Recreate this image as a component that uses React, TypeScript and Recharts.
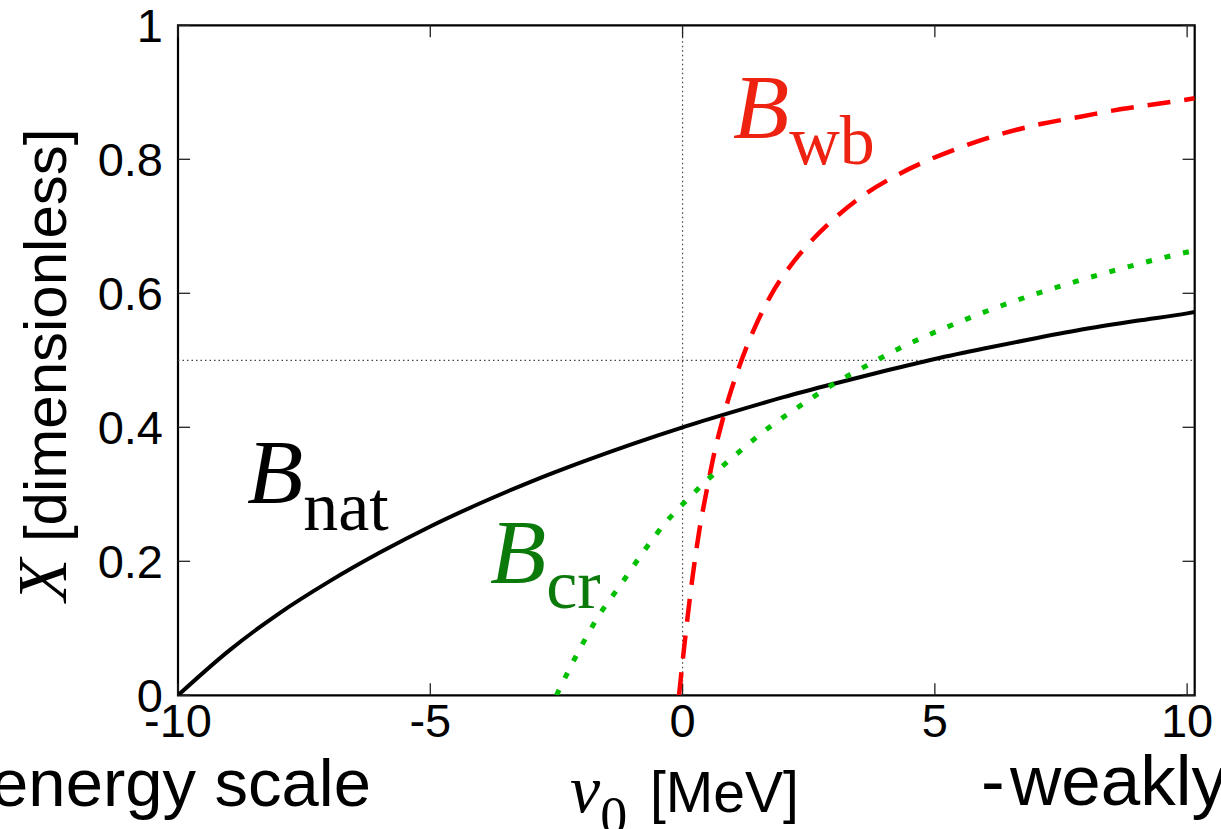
import React from "react";
import { LineChart, Line, XAxis, YAxis, ReferenceLine, ReferenceArea } from "recharts";

// nu_0 [MeV] and X for the three binding-energy scales
const natNu = [-10, -9, -8, -7, -6, -5, -4, -3, -2, -1, 0, 1, 2, 3, 4, 5, 6, 7, 8, 9, 10, 10.15];
const natX = [0, 0.066, 0.122, 0.17, 0.213, 0.252, 0.287, 0.319, 0.348, 0.375, 0.4, 0.423, 0.445, 0.465, 0.484, 0.502, 0.518, 0.533, 0.547, 0.559, 0.57, 0.572];

const wbNu = [-0.07, 0, 0.1, 0.19, 0.33, 0.5, 0.63, 0.79, 0.92, 1.12, 1.42, 1.75, 2.21, 2.43, 3, 3.56, 4.19, 4.88, 5.59, 6.37, 7.12, 7.91, 8.7, 9.53, 10.15];
const wbX = [0, 0.05, 0.117, 0.172, 0.245, 0.314, 0.362, 0.41, 0.445, 0.49, 0.547, 0.597, 0.648, 0.668, 0.711, 0.745, 0.774, 0.799, 0.82, 0.839, 0.853, 0.864, 0.875, 0.884, 0.891];

const crNu = [-2.5, -2.1, -1.7, -1.2, -0.75, -0.3, 0, 0.5, 1.1, 1.7, 2.35, 3, 3.65, 4.3, 5.35, 6.45, 7.55, 8.7, 9.8, 10.15];
const crX = [0, 0.06, 0.114, 0.168, 0.217, 0.261, 0.285, 0.322, 0.362, 0.399, 0.433, 0.465, 0.492, 0.518, 0.553, 0.585, 0.612, 0.637, 0.658, 0.664];

const xTicks = [-10, -5, 0, 5, 10];
const xTickLabels = ["-10", "-5", "0", "5", "10"];
const yTicks = [0, 0.2, 0.4, 0.6, 0.8, 1];
const yTickLabels = ["0", "0.2", "0.4", "0.6", "0.8", "1"];

const X_MIN = -10;
const X_MAX = 10.15;

const toPoints = (xs: number[], ys: number[]) => xs.map((x, i) => ({ x, y: ys[i] }));
const natData = toPoints(natNu, natX);
const wbData = toPoints(wbNu, wbX);
const crData = toPoints(crNu, crX);

const SANS = "'Liberation Sans', Arial, Helvetica, sans-serif";
const SERIF = "'Liberation Serif', 'Times New Roman', Times, serif";

const W = 1221;
const H = 829;

const XTick = (props: any) => {
  const { x, y, payload } = props;
  const i = xTicks.indexOf(payload.value);
  return (
    <text x={x} y={y + 42} textAnchor="middle" fontFamily={SANS} fontSize={47} fill="#000">
      {i >= 0 ? xTickLabels[i] : payload.value}
    </text>
  );
};

const YTick = (props: any) => {
  const { x, y, payload } = props;
  const i = yTicks.indexOf(payload.value);
  return (
    <text x={x - 15} y={y + 16.5} textAnchor="end" fontFamily={SANS} fontSize={47} fill="#000">
      {i >= 0 ? yTickLabels[i] : payload.value}
    </text>
  );
};

const tickStroke = "#222";
const xTickLen = 0.24; // in nu units
const yTickLen = 0.018; // in X units

export default function App() {
  return (
    <div style={{ position: "absolute", left: 0, top: 0, width: W, height: H, background: "#fff", overflow: "hidden" }}>
      <LineChart
        width={W}
        height={H}
        margin={{ top: 25.3, right: 26.3, bottom: 93.7, left: 118 }}
      >
        <XAxis
          type="number"
          dataKey="x"
          domain={[X_MIN, X_MAX]}
          ticks={xTicks}
          interval={0}
          allowDataOverflow
          axisLine={false}
          tickLine={false}
          tickSize={0}
          tickMargin={0}
          height={40}
          tick={<XTick />}
        />
        <YAxis
          type="number"
          dataKey="y"
          domain={[0, 1]}
          ticks={yTicks}
          interval={0}
          allowDataOverflow
          axisLine={false}
          tickLine={false}
          tickSize={0}
          tickMargin={0}
          width={60}
          tick={<YTick />}
        />

        {/* dotted guides at X = 0.5 and nu_0 = 0 */}
        <ReferenceLine y={0.5} stroke="#444" strokeWidth={1.2} strokeDasharray="1.5 3" ifOverflow="visible" />
        <ReferenceLine x={0} stroke="#444" strokeWidth={1.2} strokeDasharray="1.5 3" ifOverflow="visible" />

        {/* inward tick marks on all four sides */}
        {xTicks.map((t) => (
          <ReferenceLine key={`xb${t}`} segment={[{ x: t, y: 0 }, { x: t, y: yTickLen }]} stroke={tickStroke} strokeWidth={1.3} ifOverflow="visible" />
        ))}
        {xTicks.map((t) => (
          <ReferenceLine key={`xt${t}`} segment={[{ x: t, y: 1 }, { x: t, y: 1 - yTickLen }]} stroke={tickStroke} strokeWidth={1.3} ifOverflow="visible" />
        ))}
        {yTicks.map((t) => (
          <ReferenceLine key={`yl${t}`} segment={[{ x: X_MIN, y: t }, { x: X_MIN + xTickLen, y: t }]} stroke={tickStroke} strokeWidth={1.3} ifOverflow="visible" />
        ))}
        {yTicks.map((t) => (
          <ReferenceLine key={`yr${t}`} segment={[{ x: X_MAX, y: t }, { x: X_MAX - xTickLen, y: t }]} stroke={tickStroke} strokeWidth={1.3} ifOverflow="visible" />
        ))}

        {/* plot frame */}
        <ReferenceArea x1={X_MIN} x2={X_MAX} y1={0} y2={1} fill="none" fillOpacity={0} stroke="#000" strokeWidth={2.2} ifOverflow="visible" />

        <Line data={natData} dataKey="y" type="monotone" stroke="#000" strokeWidth={4} dot={false} isAnimationActive={false} />
        <Line data={wbData} dataKey="y" type="monotone" stroke="#ff0000" strokeWidth={4.5} strokeDasharray="23 14" dot={false} isAnimationActive={false} />
        <Line data={crData} dataKey="y" type="monotone" stroke="#00c000" strokeWidth={5} strokeDasharray="6 13" dot={false} isAnimationActive={false} />
      </LineChart>

      <svg width={W} height={H} style={{ position: "absolute", left: 0, top: 0, pointerEvents: "none" }}>
        {/* curve labels */}
        <text x={247} y={503} fontFamily={SERIF} fill="#000">
          <tspan fontStyle="italic" fontSize={92}>B</tspan>
          <tspan fontSize={70} dy={27}>nat</tspan>
        </text>
        <text x={490} y={583} fontFamily={SERIF} fill="#0b7a0b">
          <tspan fontStyle="italic" fontSize={92}>B</tspan>
          <tspan fontSize={70} dy={25}>cr</tspan>
        </text>
        <text x={733} y={138} fontFamily={SERIF} fill="#ee2211">
          <tspan fontStyle="italic" fontSize={92}>B</tspan>
          <tspan fontSize={70} dy={26}>wb</tspan>
        </text>

        {/* y-axis title */}
        <text transform="translate(66,365) rotate(-90)" textAnchor="middle" fill="#000">
          <tspan fontFamily={SERIF} fontStyle="italic" fontSize={70}>X</tspan>
          <tspan fontFamily={SANS} fontSize={60}> [dimensionless]</tspan>
        </text>

        {/* x-axis title and side notes */}
        <text x={371} y={806} textAnchor="end" fontFamily={SANS} fontSize={67} fill="#000">energy scale</text>
        <text x={570} y={812} fill="#000">
          <tspan fontFamily={SERIF} fontStyle="italic" fontSize={68}>ν</tspan>
          <tspan fontFamily={SERIF} fontSize={54} dy={22}>0</tspan>
          <tspan x={650} fontFamily={SANS} fontSize={57} dy={-22}>[MeV]</tspan>
        </text>
        <text y={805} fontFamily={SANS} fontSize={71} fill="#000">
          <tspan x={981}>-</tspan>
          <tspan x={1010}>weakly</tspan>
        </text>
      </svg>
    </div>
  );
}
